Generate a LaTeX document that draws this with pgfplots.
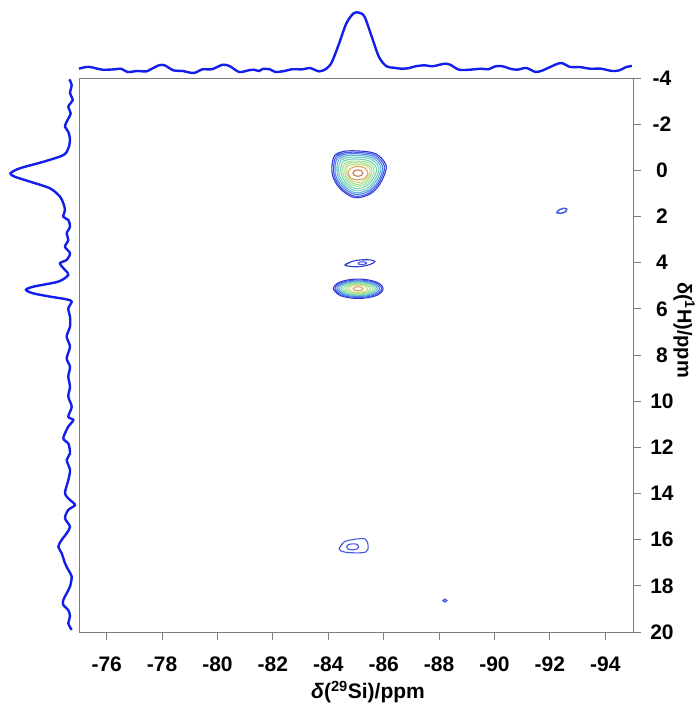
\documentclass[border=0pt]{standalone}
\usepackage{fontspec}
\setmainfont{Liberation Sans}
\usepackage{pgfplots}
\pgfplotsset{compat=1.18}
\definecolor{trace}{RGB}{20,30,235}
\definecolor{frame}{RGB}{125,125,125}
\definecolor{cA}{RGB}{45,55,215}
\definecolor{cB}{RGB}{70,90,225}
\definecolor{cC}{RGB}{85,130,230}
\definecolor{cD}{RGB}{95,180,220}
\definecolor{cE}{RGB}{120,210,185}
\definecolor{cF}{RGB}{160,225,150}
\definecolor{cG}{RGB}{210,220,125}
\definecolor{cH}{RGB}{215,165,95}
\definecolor{cI}{RGB}{200,125,75}
\pgfplotsset{ct/.style={smooth,tension=0.6,line width=1.1pt}}

\begin{document}
\begin{tikzpicture}
\useasboundingbox (0,0) rectangle (699pt,704pt);

% 2D contour map
\begin{axis}[at={(79pt,72pt)},anchor=south west,scale only axis,width=554pt,height=554pt,
  xmin=-95,xmax=-75,x dir=reverse,ymin=-4,ymax=20,y dir=reverse,
  xtick={-94,-92,-90,-88,-86,-84,-82,-80,-78,-76},
  xticklabels={-94,-92,-90,-88,-86,-84,-82,-80,-78,-76},
  ytick={-4,-2,0,2,4,6,8,10,12,14,16,18,20},
  yticklabels={-4,-2,0,2,4,6,8,10,12,14,16,18,20},
  xtick pos=bottom,ytick pos=right,yticklabel pos=right,
  tick align=outside,major tick length=8pt,
  axis line style={frame,line width=0.9pt},tick style={frame,line width=0.9pt},
  ticklabel style={font=\fontsize{21}{24}\selectfont\bfseries},
  xticklabel style={anchor=center,yshift=-24pt},
  yticklabel style={anchor=center,xshift=21pt}]
% peak at 0 ppm
\addplot[ct,cA] coordinates {(-84.24,-0.66) (-84.60,-0.83) (-85.21,-0.83) (-85.72,-0.71) (-86.04,-0.34) (-86.08,-0.01) (-85.86,0.60) (-85.50,1.03) (-84.96,1.18) (-84.49,0.86) (-84.20,0.38) (-84.13,-0.14) (-84.24,-0.66) (-84.60,-0.83)};
\addplot[ct,cB] coordinates {(-84.29,-0.61) (-84.63,-0.77) (-85.20,-0.77) (-85.68,-0.66) (-85.98,-0.31) (-86.02,0.00) (-85.81,0.57) (-85.47,0.98) (-84.97,1.12) (-84.52,0.82) (-84.25,0.36) (-84.19,-0.12) (-84.29,-0.61) (-84.63,-0.77)};
\addplot[ct,cC] coordinates {(-84.34,-0.56) (-84.66,-0.71) (-85.19,-0.71) (-85.64,-0.60) (-85.92,-0.28) (-85.96,0.01) (-85.77,0.54) (-85.45,0.91) (-84.97,1.04) (-84.56,0.76) (-84.30,0.35) (-84.24,-0.11) (-84.34,-0.56) (-84.66,-0.71)};
\addplot[ct,cD] coordinates {(-84.40,-0.50) (-84.69,-0.64) (-85.18,-0.64) (-85.60,-0.54) (-85.86,-0.25) (-85.89,0.02) (-85.71,0.50) (-85.42,0.85) (-84.98,0.97) (-84.60,0.71) (-84.37,0.33) (-84.31,-0.09) (-84.40,-0.50) (-84.69,-0.64)};
\addplot[ct,cE] coordinates {(-84.46,-0.44) (-84.72,-0.56) (-85.17,-0.56) (-85.55,-0.48) (-85.79,-0.21) (-85.82,0.03) (-85.65,0.47) (-85.39,0.78) (-84.99,0.88) (-84.64,0.65) (-84.43,0.31) (-84.37,-0.07) (-84.46,-0.44) (-84.72,-0.56)};
\addplot[ct,cE] coordinates {(-84.52,-0.37) (-84.76,-0.48) (-85.16,-0.48) (-85.50,-0.40) (-85.71,-0.17) (-85.74,0.04) (-85.59,0.42) (-85.35,0.69) (-85.00,0.79) (-84.69,0.59) (-84.50,0.28) (-84.45,-0.04) (-84.52,-0.37) (-84.76,-0.48)};
\addplot[ct,cF] coordinates {(-84.59,-0.30) (-84.80,-0.39) (-85.15,-0.39) (-85.45,-0.33) (-85.63,-0.13) (-85.66,0.05) (-85.53,0.38) (-85.32,0.61) (-85.01,0.69) (-84.73,0.52) (-84.57,0.26) (-84.52,-0.02) (-84.59,-0.30) (-84.80,-0.39)};
\addplot[ct,cF] coordinates {(-84.65,-0.24) (-84.83,-0.32) (-85.14,-0.32) (-85.40,-0.26) (-85.56,-0.09) (-85.58,0.06) (-85.47,0.34) (-85.29,0.54) (-85.01,0.61) (-84.78,0.46) (-84.63,0.24) (-84.60,0.00) (-84.65,-0.24) (-84.83,-0.32)};
\addplot[ct,cG] coordinates {(-84.70,-0.18) (-84.86,-0.24) (-85.13,-0.24) (-85.36,-0.20) (-85.50,-0.05) (-85.51,0.07) (-85.42,0.30) (-85.26,0.47) (-85.02,0.52) (-84.81,0.40) (-84.69,0.22) (-84.66,0.02) (-84.70,-0.18) (-84.86,-0.24)};
\addplot[ct,cH] coordinates {(-84.71,0.12) (-84.81,0.33) (-85.07,0.41) (-85.33,0.33) (-85.43,0.12) (-85.33,-0.09) (-85.07,-0.17) (-84.81,-0.09) (-84.71,0.12) (-84.81,0.33)};
\addplot[ct,cI] coordinates {(-84.89,0.12) (-84.94,0.22) (-85.07,0.26) (-85.20,0.22) (-85.25,0.12) (-85.20,0.02) (-85.07,-0.02) (-84.94,0.02) (-84.89,0.12) (-84.94,0.22)};
% peak at 5.1 ppm
\addplot[ct,cA] coordinates {(-84.18,5.13) (-84.44,5.43) (-85.08,5.55) (-85.72,5.43) (-85.98,5.13) (-85.72,4.83) (-85.08,4.71) (-84.44,4.83) (-84.18,5.13) (-84.44,5.43)};
\addplot[ct,cB] coordinates {(-84.24,5.13) (-84.48,5.40) (-85.08,5.51) (-85.68,5.40) (-85.92,5.13) (-85.68,4.86) (-85.08,4.75) (-84.48,4.86) (-84.24,5.13) (-84.48,5.40)};
\addplot[ct,cC] coordinates {(-84.31,5.13) (-84.53,5.37) (-85.08,5.47) (-85.63,5.37) (-85.85,5.13) (-85.63,4.89) (-85.08,4.79) (-84.53,4.89) (-84.31,5.13) (-84.53,5.37)};
\addplot[ct,cD] coordinates {(-84.38,5.13) (-84.58,5.34) (-85.08,5.43) (-85.58,5.34) (-85.78,5.13) (-85.58,4.92) (-85.08,4.83) (-84.58,4.92) (-84.38,5.13) (-84.58,5.34)};
\addplot[ct,cE] coordinates {(-84.46,5.13) (-84.64,5.32) (-85.08,5.40) (-85.52,5.32) (-85.70,5.13) (-85.52,4.94) (-85.08,4.86) (-84.64,4.94) (-84.46,5.13) (-84.64,5.32)};
\addplot[ct,cF] coordinates {(-84.55,5.13) (-84.70,5.29) (-85.08,5.36) (-85.46,5.29) (-85.61,5.13) (-85.46,4.97) (-85.08,4.90) (-84.70,4.97) (-84.55,5.13) (-84.70,5.29)};
\addplot[ct,cF] coordinates {(-84.64,5.13) (-84.77,5.27) (-85.08,5.33) (-85.39,5.27) (-85.52,5.13) (-85.39,4.99) (-85.08,4.93) (-84.77,4.99) (-84.64,5.13) (-84.77,5.27)};
\addplot[ct,cG] coordinates {(-84.74,5.13) (-84.84,5.24) (-85.08,5.29) (-85.32,5.24) (-85.42,5.13) (-85.32,5.02) (-85.08,4.97) (-84.84,5.02) (-84.74,5.13) (-84.84,5.24)};
\addplot[ct,cH] coordinates {(-84.90,5.13) (-84.95,5.19) (-85.08,5.22) (-85.21,5.19) (-85.26,5.13) (-85.21,5.07) (-85.08,5.04) (-84.95,5.07) (-84.90,5.13) (-84.95,5.19)};
% peak at 4.0 ppm
\addplot[ct,cA] coordinates {(-84.60,4.10) (-84.85,3.95) (-85.15,3.88) (-85.50,3.88) (-85.68,3.95) (-85.50,4.08) (-85.15,4.17) (-84.85,4.17) (-84.60,4.10) (-84.85,3.95)};
\addplot[ct,cB] coordinates {(-85.08,4.03) (-85.15,3.97) (-85.25,3.96) (-85.36,3.98) (-85.38,4.02) (-85.30,4.07) (-85.20,4.08) (-85.11,4.07) (-85.08,4.03) (-85.15,3.97)};
% peak at 16.3 ppm
\addplot[ct,cB] coordinates {(-84.39,16.40) (-84.57,16.10) (-84.93,15.99) (-85.33,15.97) (-85.44,16.27) (-85.36,16.53) (-84.93,16.57) (-84.57,16.53) (-84.39,16.40) (-84.57,16.10)};
\addplot[ct,cB] coordinates {(-84.66,16.31) (-84.72,16.22) (-84.88,16.18) (-85.05,16.21) (-85.10,16.31) (-85.04,16.40) (-84.88,16.44) (-84.72,16.41) (-84.66,16.31) (-84.72,16.22)};
% small features
\addplot[ct,cB,line width=1.5pt] coordinates {(-92.25,1.83) (-92.35,1.70) (-92.48,1.65) (-92.61,1.68) (-92.55,1.80) (-92.40,1.86) (-92.25,1.83) (-92.35,1.70)};
\addplot[ct,cB,line width=1.3pt] coordinates {(-88.14,18.64) (-88.21,18.58) (-88.28,18.64) (-88.21,18.70) (-88.14,18.64) (-88.21,18.58)};
\end{axis}

% 29Si projection (top)
\begin{axis}[at={(79pt,626pt)},anchor=south west,scale only axis,width=554pt,height=78pt,
  xmin=-95,xmax=-75,x dir=reverse,ymin=0,ymax=78,hide axis,clip=false]
\addplot[trace,line width=2.4pt,smooth,tension=0.5] coordinates {
(-75.00,9.3) (-75.26,11.0) (-75.46,10.7) (-75.85,8.3) (-76.31,8.7) (-76.51,9.3) (-76.77,6.0)
(-77.10,7.0) (-77.43,6.6) (-77.63,9.3) (-77.89,12.7) (-78.09,12.7) (-78.41,7.6) (-78.74,7.0)
(-79.14,5.0) (-79.46,8.7) (-79.79,8.7) (-80.19,13.3) (-80.45,11.7) (-80.78,6.0) (-81.11,7.6)
(-81.30,8.3) (-81.50,7.0) (-81.63,9.0) (-81.89,8.7) (-82.09,6.0) (-82.42,7.0) (-82.68,8.7)
(-83.08,8.7) (-83.34,10.0) (-83.67,6.6) (-83.93,9.3) (-84.13,16.0) (-84.39,34.5) (-84.65,54.5)
(-84.91,64.6) (-85.11,65.3) (-85.31,61.2) (-85.57,41.2) (-85.83,21.0) (-86.10,11.7) (-86.36,10.3)
(-86.62,9.3) (-86.88,9.7) (-87.15,11.7) (-87.48,12.7) (-87.74,11.7) (-87.94,12.7) (-88.20,14.3)
(-88.40,13.3) (-88.72,8.3) (-89.12,8.3) (-89.51,9.3) (-89.77,8.7) (-90.04,11.7) (-90.30,11.7)
(-90.56,9.3) (-90.82,8.3) (-91.15,10.0) (-91.48,6.0) (-91.74,7.6) (-92.01,11.0) (-92.40,15.0)
(-92.73,11.0) (-93.06,11.0) (-93.45,9.3) (-93.84,9.3) (-94.24,7.0) (-94.50,7.6) (-94.76,11.0)
(-94.96,12.0)};
\end{axis}

% 1H projection (left)
\begin{axis}[at={(0pt,72pt)},anchor=south west,scale only axis,width=79pt,height=554pt,
  xmin=0,xmax=79,x dir=reverse,ymin=-4,ymax=20,y dir=reverse,hide axis,clip=false]
\addplot[trace,line width=2.4pt,smooth,tension=0.5] coordinates {
(9.7,-3.94) (7.3,-3.70) (9.0,-3.34) (6.3,-3.05) (10.7,-2.76) (8.3,-2.47) (12.3,-2.11) (14.0,-1.89)
(10.7,-1.67) (9.0,-1.31) (10.7,-0.95) (15.7,-0.66) (35.7,-0.37) (59.0,-0.09) (68.5,0.13) (64.0,0.28)
(49.0,0.49) (29.0,0.78) (19.0,1.14) (15.7,1.43) (14.0,1.72) (15.7,2.01) (10.7,2.15) (9.0,2.44)
(12.3,2.73) (10.7,3.02) (14.0,3.31) (9.0,3.59) (12.3,3.88) (19.0,4.03) (14.0,4.32) (10.7,4.53)
(20.7,4.82) (45.7,5.04) (53.0,5.18) (45.7,5.33) (29.0,5.47) (12.3,5.59) (7.3,5.69) (10.7,5.98)
(9.0,6.34) (9.0,6.77) (12.3,7.20) (9.0,7.64) (12.3,8.14) (9.0,8.51) (10.7,8.94) (9.0,9.37)
(10.7,9.80) (7.3,10.24) (10.7,10.67) (5.7,10.82) (10.7,11.10) (15.7,11.61) (10.7,11.83) (9.0,12.26)
(12.3,12.55) (9.0,12.98) (10.7,13.42) (14.0,13.99) (9.0,14.28) (4.0,14.50) (10.7,14.71) (14.0,15.07)
(9.0,15.43) (12.3,15.72) (17.3,16.01) (20.7,16.30) (17.3,16.59) (14.0,17.02) (10.7,17.31) (7.3,17.60)
(9.0,18.03) (12.3,18.32) (15.7,18.61) (15.7,18.83) (10.7,19.05) (9.0,19.33) (10.7,19.62) (7.3,19.91)};
\end{axis}

\node[font=\fontsize{21}{24}\selectfont\bfseries] at (368pt,12pt) {\textit{δ}(\textsuperscript{29}Si)/ppm};
\node[font=\fontsize{20}{24}\selectfont\bfseries,rotate=-90] at (684pt,374pt) {δ(\textsuperscript{1}H)/ppm};
\end{tikzpicture}
\end{document}
